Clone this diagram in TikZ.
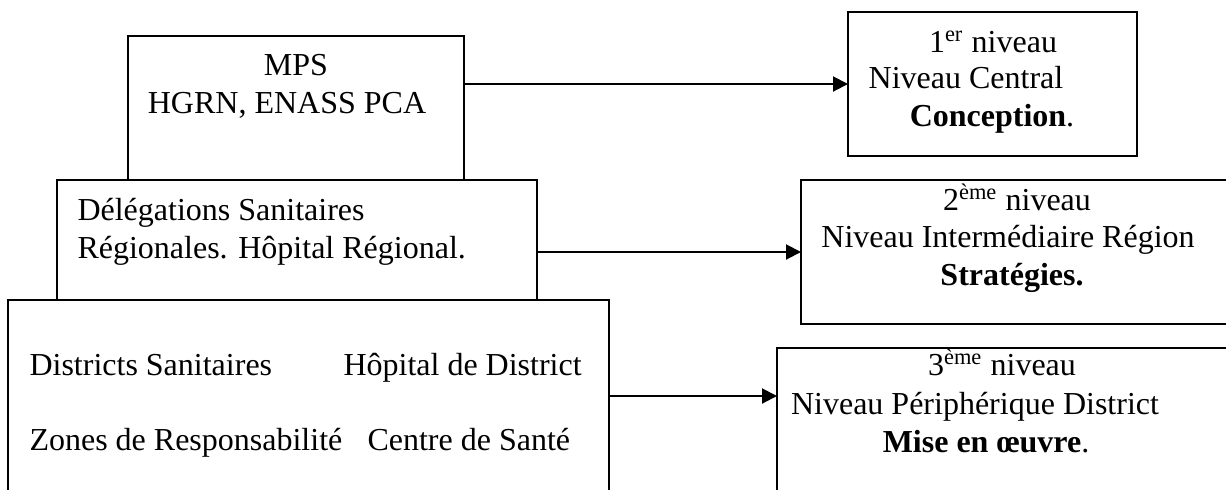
\documentclass[tikz,border=0pt]{standalone}
\usepackage{fontspec}
\setmainfont{Liberation Serif}
\usepackage{tikz}
\usetikzlibrary{arrows.meta}
\newcommand{\pxunit}{0.4pt}
\newcommand{\lvlfont}{\fontsize{12.8}{15.2}\selectfont}
\tikzstyle{box}=[draw,line width=0.8pt,inner sep=0pt,outer sep=0pt]
\tikzstyle{txt}=[inner sep=0pt,anchor=base west,font=\lvlfont]
\tikzstyle{ctxt}=[inner sep=0pt,anchor=base,font=\lvlfont]
\tikzstyle{link}=[line width=0.8pt,-{Triangle[length=6pt,width=6pt]}]

\begin{document}
\begin{tikzpicture}[x=\pxunit,y=-\pxunit]
  \useasboundingbox (0,0) rectangle (1226,489);
  \clip (0,0) rectangle (1226,489);

  % left stack
  \node[box,minimum width=336*\pxunit,minimum height=144*\pxunit] (mps) at (296,108) {};
  \node[box,minimum width=480*\pxunit,minimum height=120*\pxunit] (dsr) at (297,240) {};
  \node[box,minimum width=601*\pxunit,minimum height=192*\pxunit] (ds) at (308.5,396) {};

  \node[ctxt] (mps1) at (296,75)  {MPS};
  \node[ctxt] (mps2) at (287,113) {HGRN, ENASS PCA};

  \node[txt] (dsr1) at (77,220) {Délégations Sanitaires};
  \node[txt] (dsr2) at (77,258) {Régionales. Hôpital Régional.};

  \node[txt] (ds1) at (29,375)  {Districts Sanitaires};
  \node[txt] (ds2) at (343,375) {Hôpital de District};
  \node[txt] (ds3) at (29,450)  {Zones de Responsabilité};
  \node[txt] (ds4) at (367,450) {Centre de Santé};

  % levels
  \node[box,minimum width=289*\pxunit,minimum height=144*\pxunit] (lvl1) at (992.5,84) {};
  \node[box,minimum width=439*\pxunit,minimum height=144*\pxunit] (lvl2) at (1020.5,252) {};
  \node[box,minimum width=463*\pxunit,minimum height=152*\pxunit] (lvl3) at (1008.5,424) {};

  \node[ctxt] (lvl1a) at (993,52)  {1\textsuperscript{er} niveau};
  \node[ctxt] (lvl1b) at (966,88)  {Niveau Central};
  \node[ctxt] (lvl1c) at (992,126) {\textbf{Conception}.};

  \node[ctxt] (lvl2a) at (1017,210) {2\textsuperscript{ème} niveau};
  \node[ctxt] (lvl2b) at (1008,247) {Niveau Intermédiaire Région};
  \node[ctxt] (lvl2c) at (1012,285) {\textbf{Stratégies.}};

  \node[ctxt] (lvl3a) at (1002,375) {3\textsuperscript{ème} niveau};
  \node[ctxt] (lvl3b) at (975,414)  {Niveau Périphérique District};
  \node[ctxt] (lvl3c) at (986,452)  {\textbf{Mise en œuvre}.};

  \draw[link] (mps.east |- lvl1.west) -- (lvl1.west);
  \draw[link] (dsr.east |- lvl2.west) -- (lvl2.west);
  \draw[link] (ds.east) -- (lvl3.west |- ds.east);
\end{tikzpicture}
\end{document}
